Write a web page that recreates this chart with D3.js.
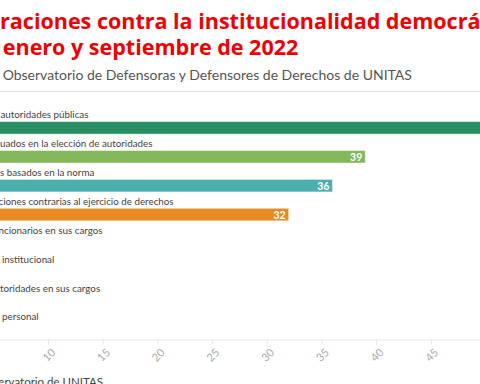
<!DOCTYPE html>
<html>
<head>
<meta charset="utf-8">
<script src="https://cdn.jsdelivr.net/npm/d3@7"></script>
<style>
  body { margin: 0; background: #fff; overflow: hidden; }
  svg { display: block; font-family: Lato, "Noto Sans", sans-serif; }
</style>
</head>
<body>
<div id="container"></div>
<script>
// data (the left part of the chart is cut off in the reference)
let categories = [
  "Agresiones a autoridades públicas",
  "Actos inadecuados en la elección de autoridades",
  "Nombramientos basados en la norma",
  "Leyes y disposiciones contrarias al ejercicio de derechos",
  "Remoción de funcionarios en sus cargos",
  "Inestabilidad institucional",
  "Prórroga de autoridades en sus cargos",
  "Hostigamiento personal"
];
// the part of each label that shows inside the crop
let visibleParts = [
  "autoridades públicas",
  "uados en la elección de autoridades",
  "s basados en la norma",
  "ciones contrarias al ejercicio de derechos",
  "ncionarios en sus cargos",
  "institucional",
  "toridades en sus cargos",
  "personal"
];
let values = [55, 39, 36, 32, 5, 4, 3, 2];
let barColors = ["#288e64", "#84b95b", "#4aafad", "#e78b22", "#c7c7c7", "#c7c7c7", "#c7c7c7", "#c7c7c7"];
let tickValues = [0, 5, 10, 15, 20, 25, 30, 35, 40, 45, 50];

let titleLines = ["Vulneraciones contra la institucionalidad democrática", "entre enero y septiembre de 2022"];
let subtitle = "Datos del Observatorio de Defensoras y Defensores de Derechos de UNITAS";
let source = "Fuente: Observatorio de UNITAS";

let w = 480;
let h = 384;
let left = -61.4; // the chart is cropped, its left edge sits off screen
// where the visible part of each label begins in the crop
let labelStart = [0.5, 0, 0, -1.5, -1.5, 2, 0, 2];

let viz = d3.select("#container")
    .append("svg")
    .attr("width", w)
    .attr("height", h);

// header
viz.selectAll(".title")
    .data(titleLines)
    .enter()
    .append("text")
    .classed("title", true)
    .attr("x", left)
    .attr("y", function(d, i){ return 29 + i * 26; })
    .attr("fill", "#ee0000")
    .attr("font-family", "'Open Sans', sans-serif")
    .attr("font-size", 21.5)
    .attr("font-weight", 700)
    .text(d => d);

viz.append("text")
    .attr("x", left + 2)
    .attr("y", 80)
    .attr("fill", "#555")
    .attr("font-size", 14)
    .text(subtitle);

viz.append("line")
    .attr("x1", 0).attr("x2", w)
    .attr("y1", 91.5).attr("y2", 91.5)
    .attr("stroke", "#e2e2e2");

// scales
let xScale = d3.scaleLinear()
    .domain([0, 50])
    .range([left, left + 547]);

let yScale = d3.scaleBand()
    .domain(categories)
    .range([108.6, 108.6 + 28.9 * categories.length]);

// x axis
let xAxis = d3.axisBottom(xScale)
    .tickValues(tickValues)
    .tickSize(5)
    .tickPadding(8);

let axisY = 339.5;
let xAxisGroup = viz.append("g").classed("xAxis", true)
    .attr("transform", "translate(0," + axisY + ")")
    .call(xAxis);

xAxisGroup.select(".domain").attr("stroke", "#e6e6e6");
xAxisGroup.selectAll("line").attr("stroke", "#e6e6e6");
xAxisGroup.selectAll("text")
    .attr("fill", "#aaa")
    .attr("font-size", 11)
    .attr("font-family", "Lato, sans-serif")
    .attr("text-anchor", "middle")
    .attr("y", 0)
    .attr("dy", 0)
    .attr("transform", "translate(0,15) rotate(-45)")
    .attr("dominant-baseline", "central");

// rows
let rows = viz.selectAll(".datapoint")
    .data(categories)
    .enter()
    .append("g")
    .classed("datapoint", true)
    .attr("transform", function(d){ return "translate(0," + yScale(d) + ")"; });

rows.append("text")
    .attr("y", 9.5)
    .attr("fill", "#444")
    .attr("font-size", 9.8)
    .text(d => d)
    .attr("x", function(d, i){
        // shift so the visible part lands where it sits in the crop
        let cut = d.length - visibleParts[i].length;
        let prefixW = cut > 0 ? this.getSubStringLength(0, cut) : 0;
        return labelStart[i] - prefixW;
    });

rows.append("rect")
    .attr("x", xScale(0))
    .attr("y", 13)
    .attr("height", 12.5)
    .attr("width", function(d, i){ return xScale(values[i]) - xScale(0); })
    .attr("fill", function(d, i){ return barColors[i]; })
    .attr("stroke", "rgba(255,255,255,0.45)")
    .attr("stroke-width", 1);

rows.append("text")
    .attr("x", function(d, i){ return xScale(values[i]) - 3; })
    .attr("y", 19.5)
    .attr("dominant-baseline", "central")
    .attr("text-anchor", "end")
    .attr("fill", "#fff")
    .attr("font-size", 10.5)
    .attr("font-weight", 700)
    .text(function(d, i){ return values[i]; });

// footer, cut by the bottom edge
viz.append("text")
    .attr("x", 103)
    .attr("y", 386)
    .attr("text-anchor", "end")
    .attr("fill", "#444")
    .attr("font-size", 11.5)
    .text(source);
</script>
</body>
</html>
